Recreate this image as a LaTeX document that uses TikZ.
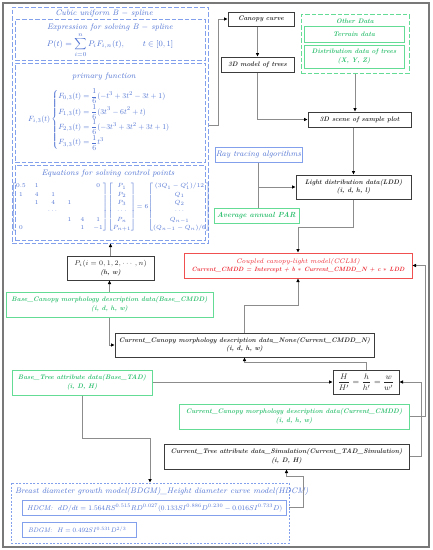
\documentclass[tikz,border=0pt]{standalone}
\usepackage{amsmath}
\usepackage{graphicx}
\usetikzlibrary{arrows.meta}
\definecolor{bline}{RGB}{130,160,235}
\definecolor{btext}{RGB}{80,115,210}
\definecolor{gline}{RGB}{100,220,150}
\definecolor{gtext}{RGB}{45,190,110}
\definecolor{rline}{RGB}{240,80,80}
\definecolor{rtext}{RGB}{235,40,50}
\definecolor{kline}{RGB}{60,60,60}
\definecolor{ktext}{RGB}{40,40,40}
\definecolor{cline}{RGB}{140,140,140}
\definecolor{frame}{RGB}{120,120,120}
\begin{document}
\begin{tikzpicture}[x=1pt,y=-1pt,
  wh/.style 2 args={minimum width=#1, minimum height=#2},
  kfont/.style={font=\fontsize{6.6}{8.4}\selectfont\bfseries\itshape},
  bfont/.style={font=\fontsize{8}{9.5}\selectfont\itshape},
  kbox/.style={inner sep=0pt, align=center, draw=kline, line width=1pt, text=ktext, kfont},
  gbox/.style={inner sep=0pt, align=center, draw=gline, line width=1pt, text=gtext, kfont},
  bbox/.style={inner sep=0pt, align=center, draw=bline, line width=1pt, text=btext, bfont},
  rbox/.style={inner sep=0pt, align=center, draw=rline, line width=1pt, text=rtext, kfont},
  btxt/.style={inner sep=0pt, align=center, text=btext, bfont},
  gtxt/.style={inner sep=0pt, align=center, text=gtext, kfont},
  bdash/.style={draw=bline, line width=1pt, dash pattern=on 4.5pt off 2pt, inner sep=0pt},
  bdot/.style={draw=bline, line width=0.9pt, dash pattern=on 2pt off 1.5pt, inner sep=0pt},
  gdash/.style={draw=gline, line width=1pt, dash pattern=on 4.5pt off 2pt, inner sep=0pt},
  conn/.style={draw=cline, line width=0.8pt, -{Triangle[length=3.5pt,width=3.2pt,color=black]}},
  plain/.style={draw=cline, line width=0.8pt},
]
\useasboundingbox (0,0) rectangle (432,550);
\draw[draw=frame, line width=1.3pt] (3,3) rectangle (429,547);

% B-spline group
\node[bdash, wh={196}{236}] (bs) at (110,125) {};
\node[btxt] (bst) at (104,13) {Cubic uniform B $-$ spline};
\node[bdash, wh={190}{41}] (ex) at (110,39.5) {};
\node[btxt] (ext) at (110,27) {Expression for solving B $-$ spline};
\node[btxt, font=\fontsize{8.5}{10}\selectfont] (pt) at (110,45) {$P(t)=\displaystyle\sum_{i=0}^{n}P_iF_{i,n}(t),\quad\ \ \ t\in[0,1]$};
\node[bdash, wh={190}{99}] (pf) at (110,112.5) {};
\node[btxt] (pft) at (104,76) {primary function};
\node[btxt, anchor=west, font=\fontsize{9.5}{11}\selectfont] (fi) at (28,119.5) {\resizebox{142pt}{!}{$F_{i,3}(t)\left\{\begin{array}{@{}l@{}}
 F_{0,3}(t)=\dfrac{1}{6}(-t^3+3t^2-3t+1)\\[3.5pt]
 F_{1,3}(t)=\dfrac{1}{6}(3t^3-6t^2+t)\\[3.5pt]
 F_{2,3}(t)=\dfrac{1}{6}(-3t^3+3t^2+3t+1)\\[3.5pt]
 F_{3,3}(t)=\dfrac{1}{6}t^3\end{array}\right.$}};
\node[bdash, wh={190}{75}] (eq) at (110,202.5) {};
\node[btxt] (eqt) at (108,173) {Equations for solving control points};
\node[btxt, font=\fontsize{6.5}{8.3}\selectfont] (mat) at (111,207) {\setlength\arraycolsep{4.6pt}$\begin{bmatrix}0.5&1&&&&0\\1&4&1&&&\\&1&4&1&&\\&&\cdots&&&\\&&&1&4&1\\0&&&&1&-1\end{bmatrix}\!\begin{bmatrix}P_1\\P_2\\P_3\\\cdots\\P_n\\P_{n+1}\end{bmatrix}\!=6\!\begin{bmatrix}(3Q_1-Q_1')/12\\Q_1\\Q_2\\\cdots\\Q_{n-1}\\(Q_{n-1}-Q_n)/6\end{bmatrix}$};

% right column
\node[kbox, wh={66}{14}] (canopy) at (261,19) {Canopy curve};
\node[kbox, wh={73}{15}] (model) at (257.5,64.5) {3D model of trees};
\node[gdash, wh={108}{59}] (other) at (355,43.5) {};
\node[gtxt] (othert) at (355,21) {Other Data};
\node[gbox, wh={100}{16}] (terrain) at (354,34) {Terrain data};
\node[gbox, wh={100}{23}] (distr) at (354,56.5) {Distribution data of trees\\(X, Y, Z)};
\node[kbox, wh={103}{15}] (scene) at (359.5,119.5) {3D scene of sample plot};
\node[bbox, wh={87}{15}] (ray) at (258.5,154.5) {Ray tracing algorithms};
\node[gbox, wh={85}{15}, font=\fontsize{7.4}{9}\selectfont\bfseries\itshape] (par) at (256.5,215.5) {Average annual PAR};
\node[kbox, wh={115}{24}] (ldd) at (353.5,187) {Light distribution data(LDD)\\(i, d, h, l)};
\node[rbox, wh={228}{25}, font=\fontsize{6.7}{8.4}\selectfont\itshape] (cclm) at (298,265.5) {Coupled canopy-light model(CCLM)\\\resizebox{213pt}{!}{\bfseries Current\_CMDD = Intercept + b $\ast$ Current\_CMDD\_N + c $\ast$ LDD}};

% middle
\node[kbox, wh={87}{24}] (pi) at (110.5,268) {$P_i(i=0,1,2,\cdots,n)$\\(h, w)};
\node[gbox, wh={207}{25}] (bcmdd) at (109.5,304.5) {Base\_Canopy morphology description data(Base\_CMDD)\\(i, d, h, w)};
\node[kbox, wh={259}{24}] (cmddN) at (244.5,345) {Current\_Canopy morphology description data\_None(Current\_CMDD\_N)\\(i, d, h, w)};
\node[kbox, wh={66}{24}, font=\fontsize{8}{9}\selectfont] (hbox) at (366,382) {$\dfrac{H}{H'}=\dfrac{h}{h'}=\dfrac{w}{w'}$};
\node[gbox, wh={140}{25}] (btad) at (82,382.5) {Base\_Tree attribute data(Base\_TAD)\\(i, D, H)};
\node[gbox, wh={230}{25}] (ccmdd) at (294,416.5) {Current\_Canopy morphology description data(Current\_CMDD)\\(i, d, h, w)};
\node[kbox, wh={245}{25}] (ctad) at (286.5,456.5) {Current\_Tree attribute data\_Simulation(Current\_TAD\_Simulation)\\(i, D, H)};

% bottom models
\node[bdot, wh={278}{60}] (bdgm) at (150,513) {};
\node[btxt, anchor=west] (bdgmt) at (15,491) {Breast diameter growth model(BDGM)\_Height diameter curve model(HDCM)};
\node[bbox, wh={264}{15}] (hdcm) at (154,507.5) {};
\node[btxt, anchor=west, font=\fontsize{8}{9}\selectfont\itshape] (hdcmt) at (27,508) {\resizebox{255pt}{!}{HDCM:\ \ $dD/dt=1.564RS^{0.515}RD^{0.027}(0.133SI^{0.886}D^{0.230}-0.016SI^{0.733}D)$}};
\node[bbox, wh={114}{15}] (bdg) at (79,529.5) {};
\node[btxt, anchor=west, font=\fontsize{8}{9}\selectfont\itshape] (bdgt) at (28,529.5) {\resizebox{98pt}{!}{BDGM:\ \ $H=0.492SI^{0.531}D^{2/3}$}};

% connectors
\draw[conn] (bs.east) -- ++(10,0) |- (canopy.west);
\draw[conn] (canopy.south -| model.north) -- (model.north);
\draw[conn] (model.south) |- (scene.west);
\draw[conn] (other.south) -- (other.south |- scene.north);
\draw[conn] (scene.south -| ldd.north) -- (ldd.north);
\draw[plain] (ray.south) -- (ray.south |- par.north);
\draw[conn] (ray.south |- ldd.west) -- (ldd.west);
\draw[conn] (ldd.south) -- ++(0,28) -| (cclm.north);
\draw[conn] (cmddN.north) -- ++(0,-27) -| (cclm.south);
\draw[conn] (pi.north) -- (pi.north |- bs.south);
\draw[conn] (bcmdd.north) -- (bcmdd.north |- pi.south);
\draw[conn] (bcmdd.south) |- (cmddN.west);
\draw[conn] (hbox.north) -- ++(0,-7) -| (cmddN.south);
\draw[conn] (btad.east |- hbox.west) -- (hbox.west);
\draw[conn] (btad.south) -- ++(0,43) -| (bdgm.north);
\draw[conn] (ccmdd.east) -- ++(16,0) |- (cclm.east);
\draw[conn] (ctad.east) -- ++(12,0) |- (hbox.east);
\draw[conn] (bdgm.east |- hdcm.east) -- ++(14,0) -- ++(0,-31) -| (ctad.south);
\end{tikzpicture}
\end{document}
